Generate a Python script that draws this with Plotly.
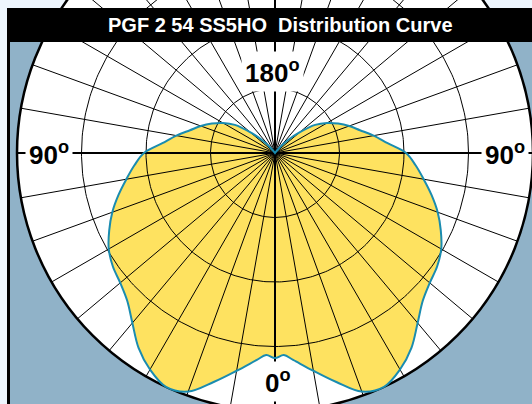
import numpy as np
import plotly.graph_objects as go

# ---------------- data ----------------
title_text = "PGF 2 54 SS5HO  Distribution Curve"
# vertical angle (deg, 0 = straight down, 180 = straight up)
angles = [0, 2.5, 5, 10, 15, 20, 25, 30, 35, 40, 45, 50, 55, 60, 65, 70, 75,
          80, 85, 90, 95, 100, 105, 110, 115, 120, 125, 130, 135, 140, 145, 150]
# relative intensity (% of outer ring)
intensity = [79.5, 78.4, 80.5, 85.7, 91.9, 98.4, 100.0, 96.9, 92.2, 86.0, 81.0,
             78.3, 76.7, 74.4, 70.9, 67.1, 62.8, 58.5, 54.7, 50.8, 43.8, 38.8,
             34.1, 30.6, 27.0, 23.3, 19.0, 12.4, 7.0, 2.3, 0.0, 0.0]
ring_values = [25, 50, 75, 100]
spoke_angles = list(range(0, 360, 10))
angle_labels = ["0", "90", "180", "90"]

# ---------------- geometry ----------------
W, H = 532, 404
CX, CY = 275, 153          # pixel centre of the diagram
S = 2.58                   # pixels per intensity unit

def dx(p):
    return (p - CX) / S

def dy(p):
    return (CY - p) / S

def px(x):
    return x / W

def py(y):
    return 1 - y / H

th = np.radians(np.array(angles, dtype=float))
r = np.array(intensity, dtype=float)
x_right = r * np.sin(th)
y_right = -r * np.cos(th)
xs = np.concatenate([x_right, -x_right[::-1]])
ys = np.concatenate([y_right, y_right[::-1]])

YELLOW = "#FEE260"
TEAL = "#1A8CB0"
STEEL = "#90B2C8"
LIGHT = "#EEF6FE"

fig = go.Figure()

fig.add_trace(go.Scatter(x=xs, y=ys, mode="lines", fill="toself",
                         fillcolor=YELLOW, line=dict(color=TEAL, width=0),
                         line_shape="spline", hoverinfo="skip"))

# rings
t = np.linspace(0, 2 * np.pi, 361)
for rv in ring_values[:-1]:
    fig.add_trace(go.Scatter(x=rv * np.cos(t), y=rv * np.sin(t), mode="lines",
                             line=dict(color="black", width=1), hoverinfo="skip"))

# spokes
sx, sy = [], []
bx, by = [], []
R = ring_values[-1]
for a in spoke_angles:
    ar = np.radians(a)
    if a % 90 == 0:
        bx += [0, R * np.sin(ar), None]
        by += [0, -R * np.cos(ar), None]
    else:
        sx += [0, R * np.sin(ar), None]
        sy += [0, -R * np.cos(ar), None]
fig.add_trace(go.Scatter(x=sx, y=sy, mode="lines",
                         line=dict(color="black", width=1), hoverinfo="skip"))
fig.add_trace(go.Scatter(x=bx, y=by, mode="lines",
                         line=dict(color="black", width=2), hoverinfo="skip"))

# curve outline on top
fig.add_trace(go.Scatter(x=xs, y=ys, mode="lines",
                         line=dict(color=TEAL, width=2),
                         line_shape="spline", hoverinfo="skip"))

shapes = [
    # steel blue panel
    dict(type="rect", xref="paper", yref="paper", x0=px(9), x1=1.01,
         y0=-0.01, y1=py(42), fillcolor=STEEL, line_width=0, layer="below"),
    # white disc
    dict(type="circle", xref="x", yref="y", x0=-R, x1=R, y0=-R, y1=R,
         fillcolor="white", line=dict(color="black", width=2.5), layer="below"),
    # light strip above the frame
    dict(type="rect", xref="paper", yref="paper", x0=0, x1=1.01,
         y0=py(8), y1=1.01, fillcolor=LIGHT, line_width=0, layer="below"),
    # light strip left of the frame
    dict(type="rect", xref="paper", yref="paper", x0=-0.01, x1=px(8),
         y0=-0.01, y1=1.01, fillcolor=LIGHT, line_width=0, layer="below"),
    # left frame border
    dict(type="rect", xref="paper", yref="paper", x0=px(7), x1=px(10),
         y0=-0.01, y1=py(8), fillcolor="black", line_width=0, layer="above"),
    # title bar
    dict(type="rect", xref="paper", yref="paper", x0=px(7), x1=1.01,
         y0=py(42), y1=py(8), fillcolor="black", line_width=0, layer="above"),
]

FAM = "Liberation Sans, Arial, sans-serif"
LABEL_FONT = dict(family=FAM, size=26, color="black")
common = dict(showarrow=False, xanchor="center", yanchor="middle")
annotations = [
    dict(x=dx(49), y=dy(153), xref="x", yref="y", text=f"<b>{angle_labels[1]}<sup>o</sup></b>",
         font=LABEL_FONT, bgcolor="white", borderpad=3, **common),
    dict(x=dx(505), y=dy(153), xref="x", yref="y", text=f"<b>{angle_labels[3]}<sup>o</sup></b>",
         font=LABEL_FONT, bgcolor="white", borderpad=3, **common),
    dict(x=dx(272), y=dy(71), xref="x", yref="y", text=f"<b>{angle_labels[2]}<sup>o</sup></b>",
         font=LABEL_FONT, bgcolor="white", borderpad=3, **common),
    dict(x=dx(278), y=dy(381), xref="x", yref="y", text=f"<b>{angle_labels[0]}<sup>o</sup></b>",
         font=LABEL_FONT, bgcolor="white", borderpad=3, **common),
    dict(x=px(280), y=py(25), xref="paper", yref="paper", text=f"<b>{title_text}</b>",
         font=dict(family=FAM, size=20, color="white"), **common),
]

fig.update_layout(
    width=W, height=H, autosize=False,
    margin=dict(l=0, r=0, t=0, b=0, pad=0),
    paper_bgcolor=LIGHT, plot_bgcolor=LIGHT,
    showlegend=False, hovermode=False, dragmode=False,
    xaxis=dict(range=[dx(0), dx(W)], visible=False, fixedrange=True),
    yaxis=dict(range=[dy(H), dy(0)], visible=False, fixedrange=True),
    shapes=shapes, annotations=annotations,
)

fig.write_html("out.html", config={"displayModeBar": False, "staticPlot": True},
               post_script="document.body.style.margin='0px';"
                           "document.body.style.overflow='hidden';"
                           "document.body.style.background='#EEF6FE';")
